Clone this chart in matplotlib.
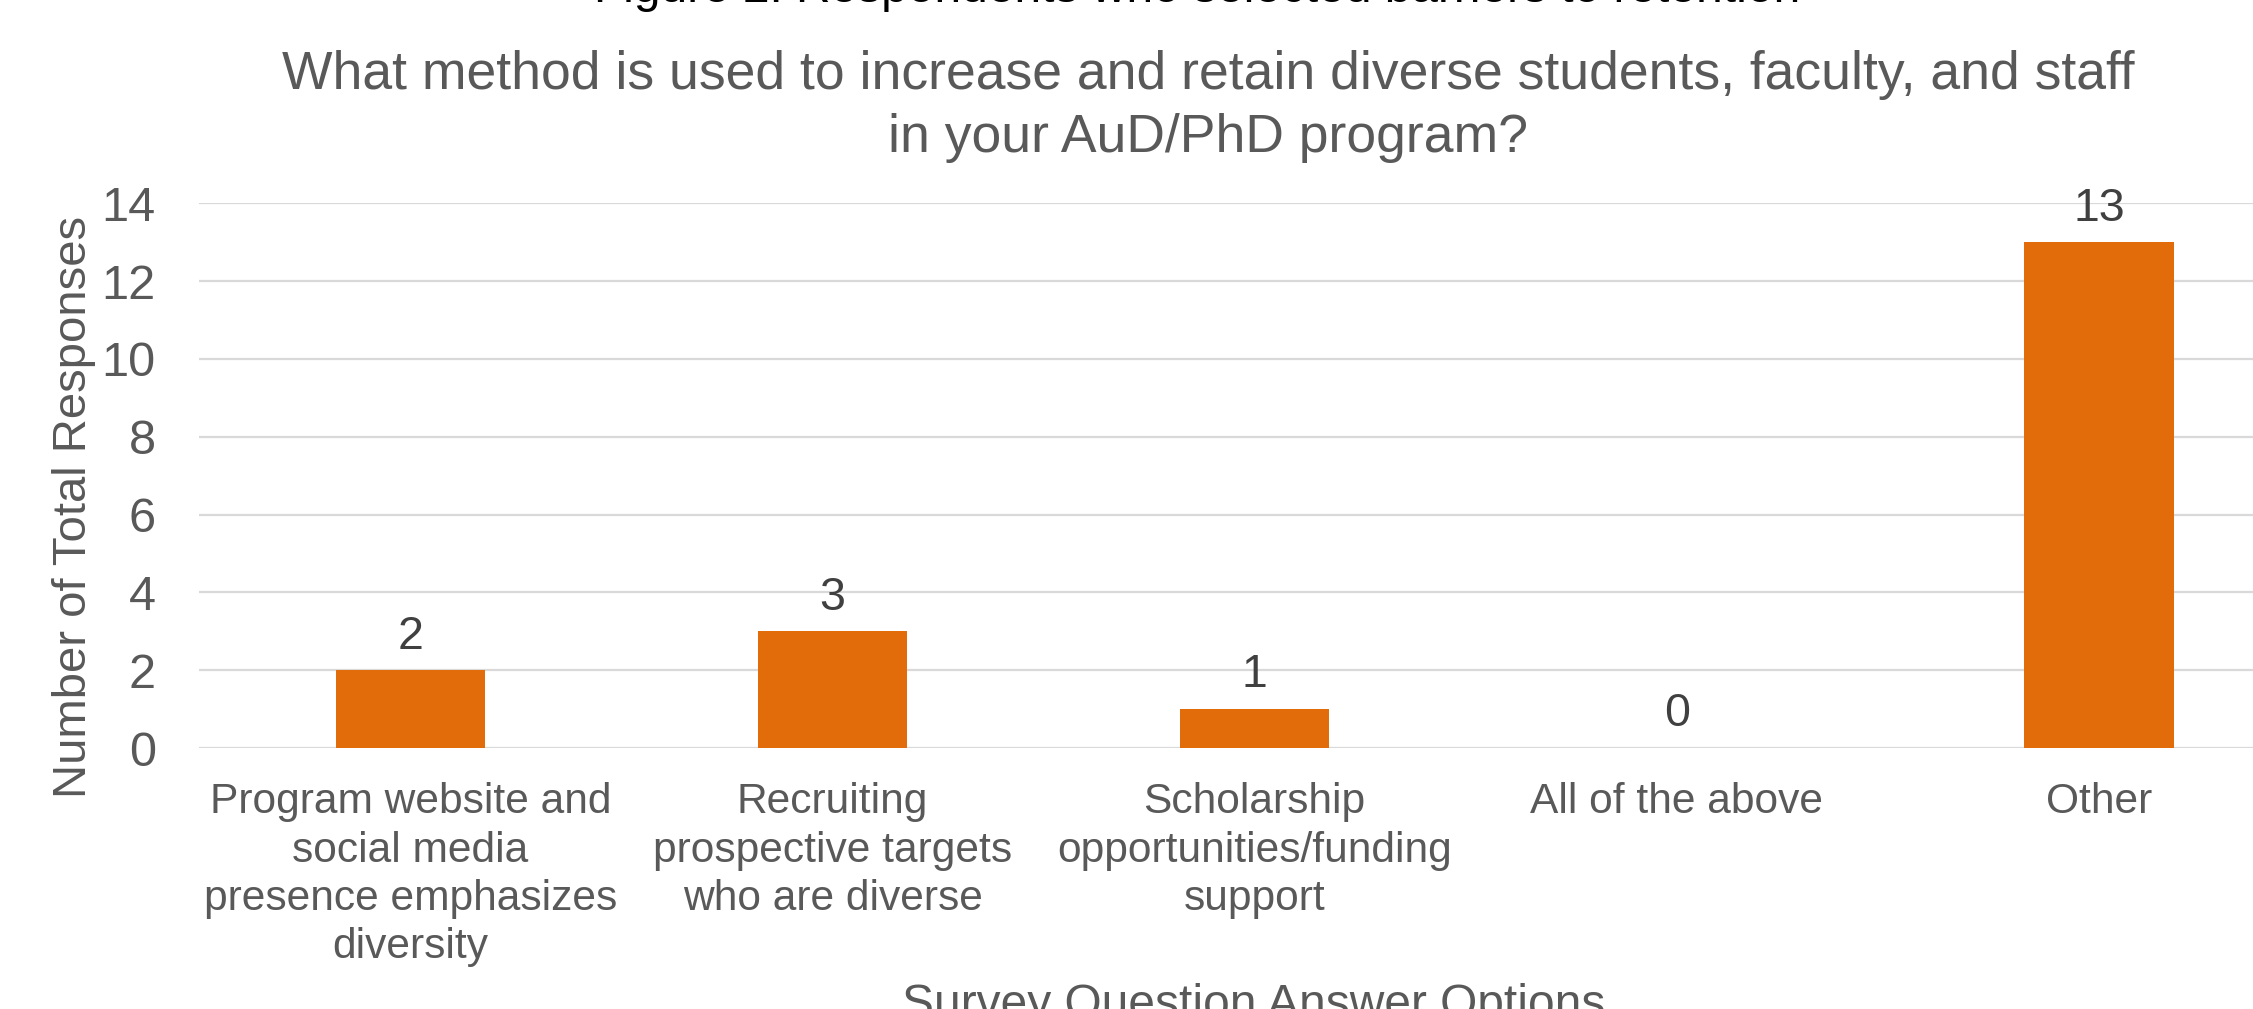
import matplotlib
matplotlib.use("Agg")
import matplotlib.pyplot as plt

plt.rcParams['font.family'] = ['Liberation Sans', 'DejaVu Sans']

# data
categories = ["Program website and\nsocial media\npresence emphasizes\ndiversity",
              "Recruiting\nprospective targets\nwho are diverse",
              "Scholarship\nopportunities/funding\nsupport",
              "All of the above",
              "Other"]
responses = [2, 3, 1, 0, 13]
yticks = [0, 2, 4, 6, 8, 10, 12, 14]

fig_title = "Figure 2: Respondents who selected barriers to retention"
title_lines = ["What method is used to increase and retain diverse students, faculty, and staff",
               "in your AuD/PhD program?"]
xlab = "Survey Question Answer Options"
ylab = "Number of Total Responses"

W, H = 2253, 1009
fig = plt.figure(figsize=(W / 100, H / 100), dpi=100)
fig.patch.set_facecolor("white")

# plot area runs past the right edge of the picture, as in the original
ax = fig.add_axes([199.3 / W, 1 - 748 / H, 2110.7 / W, (748 - 203.3) / H])

x = range(len(categories))
bars = ax.bar(x, responses, width=0.354, color="#E36C0A", zorder=3)

ax.set_xlim(-0.5, len(categories) - 0.5)
ax.set_ylim(0, 14)
ax.set_yticks(yticks)
ax.set_xticks(list(x))
ax.set_xticklabels(categories, fontsize=30.6, color="#595959", linespacing=1.27)
ax.tick_params(axis="x", length=0, pad=24.6)
ax.tick_params(axis="y", length=0, pad=31.4, labelsize=35, labelcolor="#595959")

ax.grid(axis="y", color="#D9D9D9", linewidth=1.6, zorder=0)
for s in ax.spines.values():
    s.set_visible(False)

for b, v in zip(bars, responses):
    ax.annotate(str(v), (b.get_x() + b.get_width() / 2, v),
                xytext=(0, 15.6), textcoords="offset points",
                ha="center", va="baseline", fontsize=33.5, color="#404040")

fig.text(1197 / W, 1 - 2 / H, fig_title, ha="center", va="baseline",
         fontsize=34.5, color="black")
fig.text(1208 / W, 1 - 89.3 / H, title_lines[0], ha="center", va="baseline",
         fontsize=38.5, color="#595959")
fig.text(1208 / W, 1 - 152 / H, title_lines[1], ha="center", va="baseline",
         fontsize=38.5, color="#595959")
fig.text(1254 / W, -9 / H, xlab, ha="center", va="baseline",
         fontsize=34.5, color="#595959")
fig.text(74.5 / W, 1 - 507 / H, ylab, ha="center", va="center", rotation=90,
         fontsize=34, color="#595959")

fig.savefig("out.png", dpi=100)
